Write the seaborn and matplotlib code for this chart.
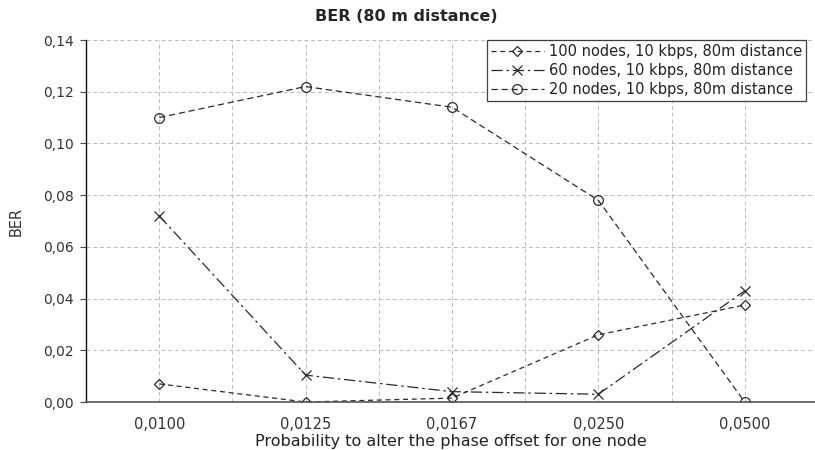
import matplotlib
matplotlib.use("Agg")
import matplotlib.pyplot as plt
import seaborn as sns
import numpy as np
import pandas as pd

# data
categories = ["0,0100", "0,0125", "0,0167", "0,0250", "0,0500"]
ber_100_nodes = [0.007, 0.000, 0.0015, 0.026, 0.0375]
ber_60_nodes = [0.072, 0.0104, 0.004, 0.003, 0.043]
ber_20_nodes = [0.110, 0.122, 0.114, 0.078, 0.000]
series_names = [
    "100 nodes, 10 kbps, 80m distance",
    "60 nodes, 10 kbps, 80m distance",
    "20 nodes, 10 kbps, 80m distance",
]
y_ticks = [0.00, 0.02, 0.04, 0.06, 0.08, 0.10, 0.12, 0.14]

sns.set_style("white")
plt.rcParams["font.family"] = ["DejaVu Sans"]

fig = plt.figure(figsize=(8.15, 4.5), dpi=100)
ax = fig.add_axes([86 / 815, 1 - 402 / 450, (815 - 86) / 815, (402 - 40) / 450])

x = np.arange(len(categories))
styles = [
    ("D", (0, (4, 3)), 5),
    ("x", (0, (9, 3, 2, 3)), 7),
    ("o", (0, (5, 3)), 7),
]
for name, vals, (mk, ls, ms) in zip(series_names, [ber_100_nodes, ber_60_nodes, ber_20_nodes], styles):
    df = pd.DataFrame({"x": x, "y": vals})
    sns.lineplot(data=df, x="x", y="y", ax=ax, color="#2a2a2a", linewidth=0.9,
                 linestyle=ls, marker=mk, markersize=ms, markerfacecolor="none",
                 markeredgecolor="#2a2a2a", markeredgewidth=0.9, label=name)

ax.set_xlim(-0.5, 4.48)
ax.set_ylim(0, 0.14)
ax.set_xticks(x)
ax.set_xticklabels(categories)
ax.set_xticks(x[:-1] + 0.5, minor=True)
ax.set_yticks(y_ticks)
ax.set_yticklabels([f"{v:.2f}".replace(".", ",") for v in y_ticks])

ax.tick_params(axis="x", which="major", length=0, pad=11, labelsize=10.5, labelcolor="#333333")
ax.tick_params(axis="x", which="minor", length=8, direction="inout", color="#444444", width=0.8)
ax.tick_params(axis="y", which="major", length=4, direction="out", color="#444444",
               labelsize=10, labelcolor="#333333", pad=5)
ax.tick_params(bottom=True, left=True)

ax.grid(True, which="both", axis="x", color="#bbbbbb", linestyle=(0, (4, 3)), linewidth=0.7)
ax.grid(True, which="major", axis="y", color="#bbbbbb", linestyle=(0, (4, 3)), linewidth=0.7)
ax.set_axisbelow(True)

for side in ["top", "right"]:
    ax.spines[side].set_visible(False)
ax.spines["left"].set_color("#111111")
ax.spines["left"].set_linewidth(1.0)
ax.spines["bottom"].set_color("#555555")
ax.spines["bottom"].set_linewidth(1.2)

ax.set_xlabel("Probability to alter the phase offset for one node", fontsize=11.5, color="#222222", labelpad=1)
ax.set_ylabel("BER", fontsize=10.5, color="#333333")
ax.yaxis.set_label_coords(-0.085, 0.5)
ax.set_title("BER (80 m distance)", fontsize=11.5, fontweight="bold", pad=14, x=0.44)

leg = ax.legend(loc="upper right", bbox_to_anchor=(0.988, 1.0), fontsize=10.5, frameon=True,
                fancybox=False, edgecolor="#111111", handlelength=3.6, handletextpad=0.4,
                borderpad=0.25, labelspacing=0.3, borderaxespad=0.0)
leg.get_frame().set_linewidth(0.9)
for t in leg.get_texts():
    t.set_color("#222222")

fig.savefig("out.png", dpi=100)
